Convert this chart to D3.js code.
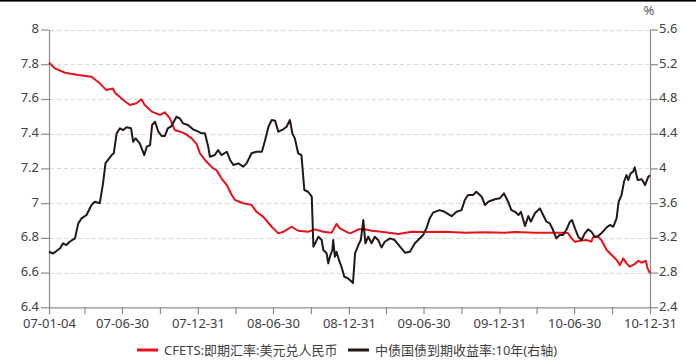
<!DOCTYPE html>
<html>
<head>
<meta charset="utf-8">
<script src="https://cdn.jsdelivr.net/npm/d3@7"></script>
<style>
  body { margin: 0; background: #fff; }
  svg { display: block; }
</style>
</head>
<body>
<svg id="chart" width="696" height="360"></svg>
<script>
// CFETS spot rate, USD/CNY (left axis)
const cnyDates = [
  "2007-01-04","2007-01-18","2007-02-12","2007-03-16","2007-04-17","2007-05-07","2007-05-23","2007-06-08",
  "2007-06-13","2007-07-03","2007-07-19","2007-08-04","2007-08-16","2007-08-24","2007-09-10","2007-09-30",
  "2007-10-12","2007-10-24","2007-11-05","2007-11-29","2007-12-16","2007-12-28","2008-01-05","2008-01-21",
  "2008-02-06","2008-02-14","2008-02-26","2008-03-10","2008-03-22","2008-03-30","2008-04-19","2008-05-09",
  "2008-05-21","2008-06-06","2008-06-27","2008-07-13","2008-07-25","2008-08-14","2008-08-30","2008-09-23",
  "2008-10-10","2008-10-30","2008-11-19","2008-12-01","2008-12-09","2008-12-29","2009-01-03","2009-01-15",
  "2009-01-23","2009-02-08","2009-02-24","2009-03-20","2009-04-30","2009-06-01","2009-07-03","2009-08-21",
  "2009-10-08","2009-11-26","2010-01-13","2010-02-07","2010-03-27","2010-05-14","2010-06-08","2010-06-15",
  "2010-06-24","2010-07-02","2010-07-18","2010-07-30","2010-08-11","2010-08-15","2010-08-27","2010-09-04",
  "2010-09-17","2010-09-29","2010-10-11","2010-10-19","2010-10-27","2010-11-04","2010-11-12","2010-11-24",
  "2010-12-03","2010-12-11","2010-12-21","2010-12-25","2010-12-31"
];
const cnyValues = [
  7.81, 7.776, 7.751, 7.738, 7.728, 7.69, 7.651, 7.66,
  7.636, 7.594, 7.565, 7.575, 7.598, 7.565, 7.527, 7.508,
  7.523, 7.488, 7.421, 7.402, 7.373, 7.34, 7.287, 7.238,
  7.2, 7.19, 7.143, 7.104, 7.047, 7.018, 6.999, 6.99,
  6.95, 6.922, 6.864, 6.826, 6.835, 6.864, 6.841, 6.835,
  6.849, 6.835, 6.83, 6.88, 6.855, 6.83, 6.826, 6.839,
  6.849, 6.849, 6.841, 6.835, 6.822, 6.835, 6.833, 6.835,
  6.83, 6.832, 6.83, 6.834, 6.83, 6.83, 6.83, 6.828,
  6.797, 6.778, 6.784, 6.788, 6.778, 6.803, 6.807, 6.788,
  6.73, 6.701, 6.672, 6.643, 6.682, 6.653, 6.634, 6.649,
  6.668, 6.657, 6.668, 6.624, 6.596
];

// ChinaBond 10-year government bond yield, % (right axis)
const yieldDates = [
  "2007-01-04","2007-01-14","2007-01-31","2007-02-07","2007-02-15","2007-02-23","2007-03-08","2007-03-16",
  "2007-03-24","2007-04-05","2007-04-17","2007-04-25","2007-05-07","2007-05-15","2007-05-21","2007-05-27",
  "2007-06-05","2007-06-10","2007-06-17","2007-06-25","2007-07-03","2007-07-11","2007-07-22","2007-07-27",
  "2007-08-02","2007-08-12","2007-08-23","2007-08-29","2007-09-06","2007-09-11","2007-09-18","2007-09-26",
  "2007-10-04","2007-10-12","2007-10-19","2007-10-28","2007-11-09","2007-11-17","2007-11-25","2007-12-07",
  "2007-12-19","2008-01-01","2008-01-09","2008-01-17","2008-01-25","2008-01-29","2008-02-10","2008-02-18",
  "2008-02-26","2008-03-10","2008-03-18","2008-03-26","2008-04-07","2008-04-19","2008-04-27","2008-05-09",
  "2008-05-21","2008-06-03","2008-06-11","2008-06-19","2008-06-27","2008-07-05","2008-07-13","2008-07-25",
  "2008-08-02","2008-08-10","2008-08-16","2008-08-22","2008-08-30","2008-09-07","2008-09-14","2008-09-23",
  "2008-10-02","2008-10-06","2008-10-10","2008-10-18","2008-10-26","2008-10-30","2008-11-07","2008-11-11",
  "2008-11-15","2008-11-21","2008-11-23","2008-11-27","2008-12-01","2008-12-07","2008-12-13","2008-12-20",
  "2008-12-29","2009-01-07","2009-01-10","2009-01-15","2009-01-23","2009-01-29","2009-02-04","2009-02-09",
  "2009-02-16","2009-02-24","2009-03-04","2009-03-12","2009-03-20","2009-03-28","2009-04-10","2009-04-21",
  "2009-05-04","2009-05-16","2009-05-28","2009-06-09","2009-06-17","2009-06-29","2009-07-07","2009-07-15",
  "2009-07-23","2009-08-08","2009-08-20","2009-09-06","2009-09-18","2009-09-30","2009-10-08","2009-10-16",
  "2009-10-28","2009-11-05","2009-11-18","2009-11-26","2009-12-04","2009-12-20","2010-01-01","2010-01-11",
  "2010-01-21","2010-01-29","2010-02-07","2010-02-15","2010-02-21","2010-03-03","2010-03-11","2010-03-17",
  "2010-03-27","2010-04-08","2010-04-16","2010-04-24","2010-05-02","2010-05-10","2010-05-18","2010-05-26",
  "2010-06-03","2010-06-11","2010-06-20","2010-06-25","2010-07-02","2010-07-10","2010-07-18","2010-07-26",
  "2010-08-03","2010-08-11","2010-08-19","2010-08-27","2010-09-04","2010-09-17","2010-09-25","2010-10-03",
  "2010-10-11","2010-10-16","2010-10-23","2010-10-29","2010-11-04","2010-11-08","2010-11-14","2010-11-20",
  "2010-11-24","2010-12-01","2010-12-11","2010-12-19","2010-12-27","2010-12-31"
];
const yieldValues = [
  3.04, 3.02, 3.08, 3.137, 3.117, 3.155, 3.194, 3.367,
  3.425, 3.463, 3.578, 3.616, 3.598, 3.828, 4.06, 4.097,
  4.154, 4.174, 4.404, 4.462, 4.442, 4.473, 4.462, 4.307,
  4.346, 4.289, 4.154, 4.25, 4.269, 4.5, 4.538, 4.423,
  4.373, 4.373, 4.462, 4.488, 4.595, 4.577, 4.519, 4.5,
  4.45, 4.423, 4.404, 4.404, 4.25, 4.135, 4.154, 4.212,
  4.154, 4.192, 4.097, 4.039, 4.058, 4.02, 4.058, 4.174,
  4.192, 4.192, 4.327, 4.48, 4.557, 4.55, 4.423, 4.45,
  4.48, 4.557, 4.404, 4.346, 4.174, 4.154, 3.751, 3.731,
  3.674, 3.098, 3.137, 3.213, 3.175, 3.06, 3.022, 2.906,
  2.983, 3.06, 3.175, 2.983, 3.04, 2.944, 2.867, 2.752,
  2.733, 2.695, 2.68, 3.022, 3.117, 3.175, 3.405, 3.137,
  3.213, 3.137, 3.213, 3.175, 3.09, 3.155, 3.194, 3.175,
  3.098, 3.029, 3.04, 3.137, 3.175, 3.233, 3.31, 3.425,
  3.49, 3.52, 3.5, 3.45, 3.5, 3.52, 3.636, 3.693,
  3.693, 3.731, 3.674, 3.578, 3.616, 3.644, 3.655, 3.713,
  3.616, 3.52, 3.5, 3.463, 3.5, 3.336, 3.45, 3.386,
  3.483, 3.54, 3.463, 3.386, 3.367, 3.29, 3.194, 3.233,
  3.233, 3.29, 3.386, 3.405, 3.31, 3.213, 3.175, 3.252,
  3.298, 3.27, 3.213, 3.22, 3.252, 3.321, 3.348, 3.328,
  3.425, 3.616, 3.693, 3.847, 3.924, 3.866, 3.943, 3.962,
  4.012, 3.866, 3.874, 3.808, 3.904, 3.92
];

// Axis ticks
const xTickDates = [
  "2007-01-04","2007-03-31","2007-06-30","2007-09-30","2007-12-31","2008-03-31","2008-06-30","2008-09-30",
  "2008-12-31","2009-03-31","2009-06-30","2009-09-30","2009-12-31","2010-03-31","2010-06-30","2010-09-30",
  "2010-12-31"
];
const leftTicks = [6.4, 6.6, 6.8, 7, 7.2, 7.4, 7.6, 7.8, 8];
const rightTicks = [2.4, 2.8, 3.2, 3.6, 4, 4.4, 4.8, 5.2, 5.6];

const seriesNames = ["CFETS:即期汇率:美元兑人民币", "中债国债到期收益率:10年(右轴)"];
const seriesColors = ["#e8121b", "#231815"];

const parse = d3.timeParse("%Y-%m-%d");
const fmt = d3.timeFormat("%y-%m-%d");

const plotLeft = 49, plotRight = 650, plotTop = 29.5, plotBottom = 307.3;
const font = "'Noto Sans', 'Noto Sans CJK SC', sans-serif";
const textColor = "#404040";
const axisColor = "#8c8c8c";

const svg = d3.select("#chart");
svg.append("rect").attr("width", 696).attr("height", 360).attr("fill", "#fff");
svg.append("rect").attr("x", 0).attr("y", 0).attr("width", 696).attr("height", 1.6).attr("fill", "#000");

const x = d3.scaleTime()
  .domain([parse(xTickDates[0]), parse(xTickDates[xTickDates.length - 1])])
  .range([plotLeft, plotRight]);
const yL = d3.scaleLinear().domain([6.4, 8]).range([plotBottom, plotTop]);
const yR = d3.scaleLinear().domain([2.4, 5.6]).range([plotBottom, plotTop]);

// dashed gridlines
svg.append("g")
  .selectAll("line")
  .data(leftTicks.filter(v => v > 6.4))
  .join("line")
  .attr("x1", plotLeft + 1).attr("x2", plotRight)
  .attr("y1", d => Math.round(yL(d)) + 0.5).attr("y2", d => Math.round(yL(d)) + 0.5)
  .attr("stroke", "#d9d9d9").attr("stroke-width", 1).attr("stroke-dasharray", "4,3");

function styleAxis(g) {
  g.select(".domain").attr("stroke", axisColor).attr("stroke-width", 1.2);
  g.selectAll(".tick line").attr("stroke", axisColor).attr("stroke-width", 1.2);
  g.selectAll(".tick text").attr("fill", textColor).attr("font-size", 13).attr("font-family", font);
}

// left axis
svg.append("g")
  .attr("transform", `translate(${plotLeft},0)`)
  .call(d3.axisLeft(yL).tickValues(leftTicks).tickSize(8).tickSizeOuter(0).tickPadding(2)
    .tickFormat(d3.format("~g")))
  .call(styleAxis)
  .call(g => g.selectAll(".tick text").attr("dy", "0.22em"));

// right axis
svg.append("g")
  .attr("transform", `translate(${plotRight},0)`)
  .call(d3.axisRight(yR).tickValues(rightTicks).tickSize(8).tickSizeOuter(0).tickPadding(1)
    .tickFormat(d3.format("~g")))
  .call(styleAxis)
  .call(g => g.selectAll(".tick text").attr("dy", "0.22em"));

// bottom axis: quarterly ticks, labels every half year
svg.append("g")
  .attr("transform", `translate(0,${plotBottom})`)
  .call(d3.axisBottom(x).tickValues(xTickDates.map(parse)).tickSize(7).tickSizeOuter(0).tickPadding(4)
    .tickFormat((d, i) => i % 2 === 0 ? fmt(d) : ""))
  .call(styleAxis);

// unit label
svg.append("text")
  .attr("x", 649).attr("y", 15)
  .attr("text-anchor", "middle")
  .attr("font-family", font).attr("font-size", 13).attr("fill", "#595959")
  .text("%");

// series lines
const cnyData = cnyDates.map((d, i) => ({ date: parse(d), value: cnyValues[i] }));
const yieldData = yieldDates.map((d, i) => ({ date: parse(d), value: yieldValues[i] }));

svg.append("path")
  .datum(cnyData)
  .attr("fill", "none")
  .attr("stroke", seriesColors[0])
  .attr("stroke-width", 2)
  .attr("stroke-linejoin", "round")
  .attr("d", d3.line().x(d => x(d.date)).y(d => yL(d.value)));

svg.append("path")
  .datum(yieldData)
  .attr("fill", "none")
  .attr("stroke", seriesColors[1])
  .attr("stroke-width", 2)
  .attr("stroke-linejoin", "round")
  .attr("d", d3.line().x(d => x(d.date)).y(d => yR(d.value)));

// legend
const legendItems = [
  { x: 137, name: seriesNames[0], color: seriesColors[0] },
  { x: 348, name: seriesNames[1], color: seriesColors[1] }
];
const legend = svg.append("g");
legendItems.forEach(item => {
  legend.append("line")
    .attr("x1", item.x).attr("x2", item.x + 21)
    .attr("y1", 350).attr("y2", 350)
    .attr("stroke", item.color).attr("stroke-width", 3);
  legend.append("text")
    .attr("x", item.x + 27).attr("y", 354.5)
    .attr("font-family", font).attr("font-size", 13).attr("fill", textColor)
    .text(item.name);
});
</script>
</body>
</html>
